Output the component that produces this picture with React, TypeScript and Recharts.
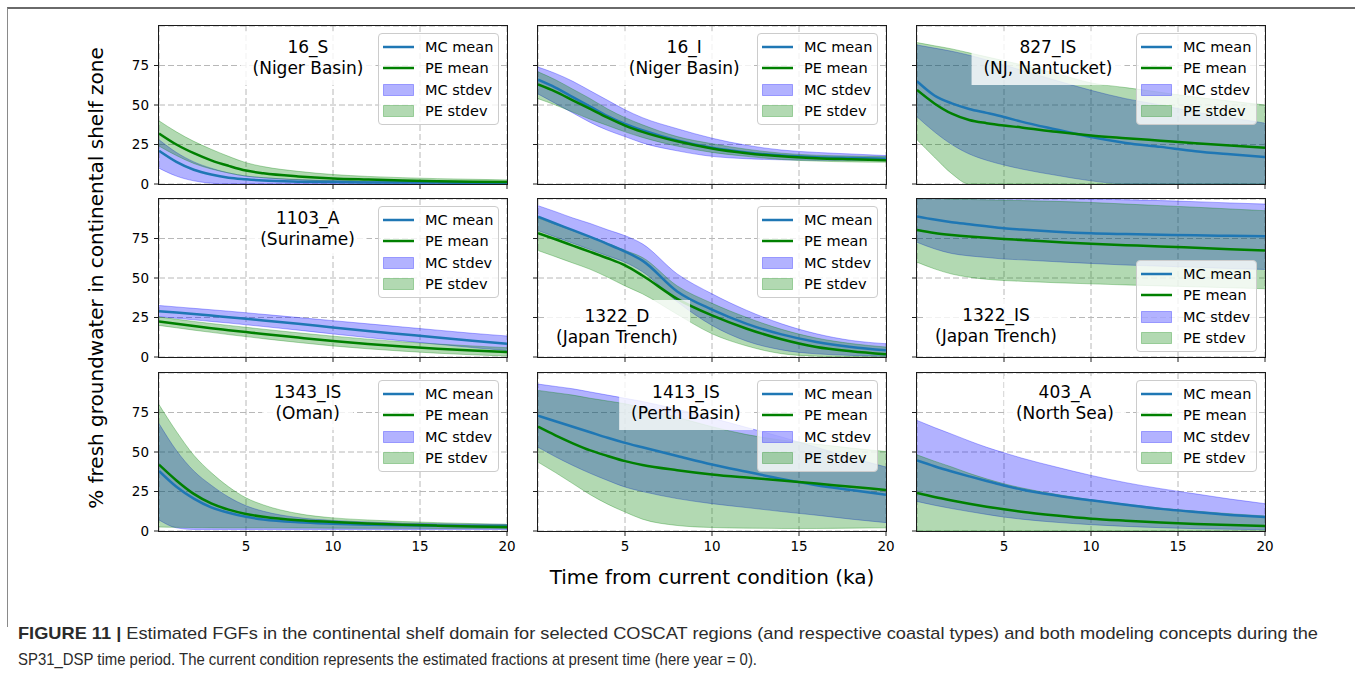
import React from "react";
import {
  Area,
  CartesianGrid,
  ComposedChart,
  Legend,
  Line,
  XAxis,
  YAxis,
} from "recharts";

// time axis (ka) shared by every panel
const TIME_KA = [0, 1, 2, 3, 4, 5, 6, 8, 10, 12, 14, 16, 18, 20];
const X_TICKS = [5, 10, 15, 20];
const Y_TICKS = [0, 25, 50, 75];

// 16_S (Niger Basin)
const mcMean16S = [21, 14, 9, 6, 4, 3, 2.2, 1.5, 1.2, 1, 0.9, 0.9, 0.8, 0.8];
const mcLo16S = [10, 5, 2, 0.5, 0, 0, 0, 0, 0, 0, 0, 0, 0, 0];
const mcHi16S = [28, 20, 14, 10, 7, 5, 4, 2.8, 2.2, 1.8, 1.6, 1.5, 1.4, 1.3];
const peMean16S = [32, 25, 19.5, 15, 11.5, 8.5, 6.8, 4.8, 3.5, 2.8, 2.2, 1.8, 1.5, 1.3];
const peLo16S = [24, 18, 13, 9.5, 7, 5, 4, 2.6, 1.8, 1.3, 1, 0.8, 0.6, 0.5];
const peHi16S = [40, 33, 27, 22, 17.5, 13.5, 11, 8, 6, 4.8, 4, 3.4, 3, 2.6];

// 16_I (Niger Basin)
const mcMean16I = [66, 61, 55, 49, 43, 38, 34, 27.5, 23, 20, 18, 17, 16.5, 16];
const mcLo16I = [57, 51, 45, 39, 34, 30, 26, 21, 17.5, 16, 15.3, 15, 15, 15];
const mcHi16I = [74, 70, 65, 59, 53, 47, 42, 35, 29, 24.5, 21.5, 20, 19, 18];
const peMean16I = [63, 58.5, 53, 47.5, 42, 37, 33, 27, 22.5, 19.5, 17.5, 16.3, 15.6, 15];
const peLo16I = [54, 50, 45.5, 41, 37, 33, 29.5, 24, 20, 17.5, 15.5, 14.5, 14, 13.8];
const peHi16I = [71, 66, 60, 54, 47.5, 42, 37.5, 30, 25.5, 22, 19.5, 18.2, 17.7, 17.4];

// 827_IS (NJ, Nantucket)
const mcMean827 = [65, 56, 51, 47.5, 45, 42.4, 39.5, 34.5, 29.7, 26, 23.5, 20.8, 18.8, 17];
const mcLo827 = [42.5, 33, 25, 19, 15, 12, 9.5, 5.5, 2, 0, 0, 0, 0, 0];
const mcHi827 = [88, 86, 84, 81.5, 78.5, 75.3, 72, 65.5, 59.3, 54, 50, 45.5, 42, 38.5];
const peMean827 = [59.5, 51, 44.5, 40.5, 38.5, 37, 35.8, 33, 30.7, 29, 27.4, 25.8, 24.3, 22.9];
const peLo827 = [28, 17, 6.5, 0, 0, 0, 0, 0, 0, 0, 0, 0, 0, 0];
const peHi827 = [89.5, 87.5, 85.5, 83, 80.5, 78, 75.5, 70, 64, 61, 58, 55, 52.5, 50];

// 1103_A (Suriname)
const mcMean1103 = [29, 28.1, 27.2, 26.2, 25.2, 24.2, 23.1, 21, 18.7, 16.5, 14.4, 12.3, 10.3, 8.4];
const mcLo1103 = [25.5, 24.5, 23.5, 22.5, 21.5, 20.4, 19.3, 17, 14.6, 12.3, 10.2, 8.1, 6, 4];
const mcHi1103 = [32.6, 31.7, 30.8, 29.9, 29, 28, 27, 25, 23, 21, 19, 17, 15, 13.3];
const peMean1103 = [22.5, 21, 19.6, 18.2, 17, 15.8, 14.6, 12.3, 10.1, 8.2, 6.6, 5.2, 4.1, 3.2];
const peLo1103 = [20, 18.5, 17, 15.6, 14.2, 12.9, 11.6, 9.2, 7, 5.2, 3.7, 2.4, 1.4, 0.6];
const peHi1103 = [25.3, 23.9, 22.5, 21.2, 20, 18.8, 17.6, 15.3, 13.2, 11.3, 9.6, 8.2, 7, 5.9];

// 1322_D (Japan Trench)
const mcMean1322D = [88.8, 84.5, 80.3, 76, 71.5, 66.7, 61, 41.5, 30, 21, 14.3, 9.5, 6.3, 4.2];
const mcLo1322D = [80, 76, 72, 68, 64, 60, 54, 35, 20, 10, 4.5, 2, 1, 0.5];
const mcHi1322D = [95.8, 92, 88, 84.5, 80.5, 76.8, 71.6, 52.6, 40, 29.5, 21, 14.7, 10.5, 8.4];
const peMean1322D = [78.3, 74.5, 70.5, 66.5, 62.5, 58, 51.6, 36.8, 26.3, 17.9, 11.2, 6.3, 3.6, 1.7];
const peLo1322D = [67.4, 63.5, 59.5, 55.5, 50.5, 45, 40, 27, 14.7, 7, 2.1, 0.5, 0, 0];
const peHi1322D = [88, 84, 80, 76, 72, 67.5, 63, 45, 34, 25, 17.5, 12, 8.5, 6.3];

// 1322_IS (Japan Trench)
const mcMean1322IS = [89, 87, 85.3, 84, 82.7, 81.5, 80.7, 79.3, 78.3, 77.8, 77.4, 77, 76.7, 76.4];
const mcLo1322IS = [72.6, 68.5, 65.5, 64, 63, 62, 61.5, 60.3, 59.2, 58.2, 57.5, 56.8, 56, 55.4];
const mcHi1322IS = [103, 103, 102.8, 102.5, 102.2, 102, 101.5, 100.8, 100, 99.5, 99, 98.3, 97.5, 96.8];
const peMean1322IS = [80.4, 78.5, 77.2, 76.2, 75.4, 74.7, 74.1, 72.8, 71.6, 70.8, 70, 69.1, 68.2, 67.4];
const peLo1322IS = [60, 55.8, 52.5, 50.5, 49.2, 48.4, 47.9, 47, 46.3, 45.6, 45, 44.4, 43.8, 43.2];
const peHi1322IS = [101, 100.5, 100, 99.7, 99.5, 99.3, 99, 98.5, 97.8, 96.8, 95.8, 94.8, 93.7, 92.6];

// 1343_IS (Oman)
const mcMean1343 = [38, 28, 20.5, 15, 11.5, 9, 7.3, 5.5, 4.6, 4, 3.6, 3.3, 3.1, 3];
const mcLo1343 = [7, 2, 1, 1, 1, 1, 1, 1, 1, 1, 1, 1, 1, 1];
const mcHi1343 = [68, 51, 38, 29, 21.5, 16, 12.5, 8.5, 6.7, 5.7, 5, 4.6, 4.3, 4.2];
const peMean1343 = [42, 32, 23.5, 17.5, 13.5, 10.8, 9, 6.8, 5.7, 4.8, 4, 3.4, 2.9, 2.5];
const peLo1343 = [2.5, 2.3, 2.2, 2.1, 2, 2, 2, 1.9, 1.8, 1.7, 1.7, 1.6, 1.6, 1.5];
const peHi1343 = [80, 63, 48, 37, 28, 21, 16.5, 11, 8.3, 7, 6, 5.3, 4.7, 4.2];

// 1413_IS (Perth Basin)
const mcMean1413 = [73, 69.5, 66, 62.5, 59, 55.8, 53, 47.5, 42.1, 37.5, 33, 29, 26, 23];
const mcLo1413 = [53, 47, 41.5, 36.5, 32, 27.8, 25, 20.5, 17.3, 14.8, 12.3, 10, 7.5, 5.3];
const mcHi1413 = [93, 91.5, 90, 88, 86, 84, 82, 77, 71.5, 65.5, 59.5, 53, 46.5, 40.5];
const peMean1413 = [66, 60.5, 55.5, 51, 47.5, 44.2, 41.8, 38.5, 35.8, 33.8, 32, 30, 28, 26];
const peLo1413 = [43.6, 37, 30, 23, 17, 12, 7.5, 3.5, 2.2, 1.8, 1.6, 1.6, 1.8, 2];
const peHi1413 = [89, 87.5, 86, 84, 82.3, 80.5, 78, 72, 66, 61, 57.5, 55, 52.5, 50.3];

// 403_A (North Sea)
const mcMean403 = [44.6, 41, 37.7, 34.6, 31.6, 28.8, 26.3, 22.5, 19.4, 16.6, 14, 12, 10.2, 8.8];
const mcLo403 = [18.7, 16.3, 14.2, 12.3, 10.5, 8.8, 7.5, 5.5, 4, 2.9, 2.1, 1.5, 1.1, 0.8];
const mcHi403 = [70, 65.5, 61.3, 57, 53, 49.5, 46.2, 40.5, 35.2, 30.6, 26.8, 23.5, 20.2, 17.3];
const peMean403 = [24, 21.5, 19.3, 17.3, 15.4, 13.7, 12.2, 9.8, 7.8, 6.5, 5.4, 4.5, 3.8, 3.2];
const peLo403 = [0, 0, 0, 0, 0, 0, 0, 0, 0, 0, 0, 0, 0, 0];
const peHi403 = [48.2, 44.2, 40.5, 36.5, 33, 29.9, 27.3, 23.2, 19.8, 17, 14.5, 12.6, 10.9, 9.5];

const MC_LINE = "#1f77b4";
const PE_LINE = "#008000";
const MC_FILL = "#0000ff";
const PE_FILL = "#008000";
const FONT = "'DejaVu Sans', 'Noto Sans', sans-serif";

const PLOT_W = 348;
const PLOT_H = 158;
const COL_X = [159, 538, 917];
const ROW_Y = [26, 199, 373];
const Y_AXIS_W = 40;
const X_AXIS_H = 24;
const M_TOP = 5;
const M_RIGHT = 12;

const PANELS = [
  { id: "16_S", region: "(Niger Basin)", mcMean: mcMean16S, mcLo: mcLo16S, mcHi: mcHi16S, peMean: peMean16S, peLo: peLo16S, peHi: peHi16S, tx: 0.428, ty: 21, legendBottom: false },
  { id: "16_I", region: "(Niger Basin)", mcMean: mcMean16I, mcLo: mcLo16I, mcHi: mcHi16I, peMean: peMean16I, peLo: peLo16I, peHi: peHi16I, tx: 0.42, ty: 21, legendBottom: false },
  { id: "827_IS", region: "(NJ, Nantucket)", mcMean: mcMean827, mcLo: mcLo827, mcHi: mcHi827, peMean: peMean827, peLo: peLo827, peHi: peHi827, tx: 0.376, ty: 21, legendBottom: false },
  { id: "1103_A", region: "(Suriname)", mcMean: mcMean1103, mcLo: mcLo1103, mcHi: mcHi1103, peMean: peMean1103, peLo: peLo1103, peHi: peHi1103, tx: 0.427, ty: 19, legendBottom: false },
  { id: "1322_D", region: "(Japan Trench)", mcMean: mcMean1322D, mcLo: mcLo1322D, mcHi: mcHi1322D, peMean: peMean1322D, peLo: peLo1322D, peHi: peHi1322D, tx: 0.227, ty: 117, legendBottom: false },
  { id: "1322_IS", region: "(Japan Trench)", mcMean: mcMean1322IS, mcLo: mcLo1322IS, mcHi: mcHi1322IS, peMean: peMean1322IS, peLo: peLo1322IS, peHi: peHi1322IS, tx: 0.227, ty: 116, legendBottom: true },
  { id: "1343_IS", region: "(Oman)", mcMean: mcMean1343, mcLo: mcLo1343, mcHi: mcHi1343, peMean: peMean1343, peLo: peLo1343, peHi: peHi1343, tx: 0.427, ty: 19, legendBottom: false },
  { id: "1413_IS", region: "(Perth Basin)", mcMean: mcMean1413, mcLo: mcLo1413, mcHi: mcHi1413, peMean: peMean1413, peLo: peLo1413, peHi: peHi1413, tx: 0.425, ty: 19, legendBottom: false },
  { id: "403_A", region: "(North Sea)", mcMean: mcMean403, mcLo: mcLo403, mcHi: mcHi403, peMean: peMean403, peLo: peLo403, peHi: peHi403, tx: 0.425, ty: 19, legendBottom: false },
];

const LEGEND_ITEMS = [
  { label: "MC mean", kind: "line", color: MC_LINE },
  { label: "PE mean", kind: "line", color: PE_LINE },
  { label: "MC stdev", kind: "patch", color: MC_FILL },
  { label: "PE stdev", kind: "patch", color: PE_FILL },
];

function LegendBox() {
  return (
    <div
      style={{
        width: 121,
        boxSizing: "border-box",
        background: "rgba(255,255,255,0.8)",
        border: "1px solid #cccccc",
        borderRadius: 4,
        padding: "2px 4px 2px 4px",
        fontFamily: FONT,
        fontSize: 14.5,
        color: "#000",
      }}
    >
      {LEGEND_ITEMS.map((it) => (
        <div key={it.label} style={{ display: "flex", alignItems: "center", height: 21.5 }}>
          <svg width={31} height={12} style={{ marginRight: 11, flex: "none" }}>
            {it.kind === "line" ? (
              <line x1={0} x2={31} y1={6} y2={6} stroke={it.color} strokeWidth={2.5} />
            ) : (
              <rect x={0.5} y={0.5} width={30} height={11} fill={it.color} fillOpacity={0.3} stroke={it.color} strokeOpacity={0.3} />
            )}
          </svg>
          <span style={{ whiteSpace: "nowrap" }}>{it.label}</span>
        </div>
      ))}
    </div>
  );
}

const hiddenTick = () => <g />;

function Panel({ p, row, col }: { p: any; row: number; col: number }) {
  const rows = TIME_KA.map((t, i) => ({
    t,
    mcMean: p.mcMean[i],
    peMean: p.peMean[i],
    mcBand: [p.mcLo[i], p.mcHi[i]],
    peBand: [p.peLo[i], p.peHi[i]],
  }));
  const plotLeft = COL_X[col];
  const plotTop = ROW_Y[row];
  const legendTop = p.legendBottom ? M_TOP + PLOT_H - 7 - 90 : M_TOP + 7;
  const tickStyle = { fontSize: 13.5, fill: "#000", fontFamily: FONT };

  return (
    <>
      <div style={{ position: "absolute", left: plotLeft - Y_AXIS_W, top: plotTop - M_TOP }}>
        <ComposedChart
          width={Y_AXIS_W + PLOT_W + M_RIGHT}
          height={M_TOP + PLOT_H + X_AXIS_H}
          data={rows}
          margin={{ top: M_TOP, right: M_RIGHT, left: 0, bottom: 0 }}
        >
          <CartesianGrid stroke="#b8b8b8" strokeDasharray="6 3" />
          <XAxis
            type="number"
            dataKey="t"
            domain={[0, 20]}
            ticks={X_TICKS}
            allowDataOverflow
            axisLine={false}
            tickSize={5}
            tickMargin={5}
            tickLine={{ stroke: "#222" }}
            height={X_AXIS_H}
            tick={row === 2 ? tickStyle : hiddenTick}
          />
          <YAxis
            type="number"
            domain={[0, 100]}
            ticks={Y_TICKS}
            allowDataOverflow
            axisLine={false}
            tickSize={5}
            tickMargin={5}
            tickLine={{ stroke: "#222" }}
            width={Y_AXIS_W}
            tick={col === 0 ? tickStyle : hiddenTick}
          />
          <Area
            type="monotone"
            dataKey="mcBand"
            fill={MC_FILL}
            fillOpacity={0.3}
            stroke={MC_FILL}
            strokeOpacity={0.3}
            strokeWidth={1}
            isAnimationActive={false}
            legendType="rect"
            name="MC stdev"
          />
          <Area
            type="monotone"
            dataKey="peBand"
            fill={PE_FILL}
            fillOpacity={0.3}
            stroke={PE_FILL}
            strokeOpacity={0.3}
            strokeWidth={1}
            isAnimationActive={false}
            legendType="rect"
            name="PE stdev"
          />
          <Line type="monotone" dataKey="mcMean" stroke={MC_LINE} strokeWidth={2.5} dot={false} isAnimationActive={false} name="MC mean" />
          <Line type="monotone" dataKey="peMean" stroke={PE_LINE} strokeWidth={2.5} dot={false} isAnimationActive={false} name="PE mean" />
          <Legend
            layout="vertical"
            align="center"
            verticalAlign="middle"
            content={() => <LegendBox />}
            wrapperStyle={{ left: Y_AXIS_W + PLOT_W - 8 - 121, top: legendTop, width: 121, height: 90 }}
          />
        </ComposedChart>
      </div>
      {/* axes frame */}
      <div
        style={{
          position: "absolute",
          left: plotLeft - 1,
          top: plotTop - 1,
          width: PLOT_W + 2,
          height: PLOT_H + 2,
          boxSizing: "border-box",
          border: "1px solid #1a1a1a",
          pointerEvents: "none",
        }}
      />
      {/* panel label */}
      <div
        style={{
          position: "absolute",
          left: plotLeft + p.tx * PLOT_W,
          top: plotTop + p.ty - 10.5 - 6,
          transform: "translateX(-50%)",
          padding: "6px 12px",
          background: "rgba(255,255,255,0.8)",
          fontFamily: FONT,
          fontSize: 17,
          lineHeight: "21px",
          textAlign: "center",
          whiteSpace: "nowrap",
          color: "#000",
          pointerEvents: "none",
        }}
      >
        <div>{p.id}</div>
        <div>{p.region}</div>
      </div>
    </>
  );
}

export default function App() {
  return (
    <div
      style={{
        position: "fixed",
        left: 0,
        top: 0,
        width: 1355,
        height: 674,
        background: "#fff",
        overflow: "hidden",
      }}
    >
      {/* figure frame */}
      <div
        style={{
          position: "absolute",
          left: 7,
          top: 7,
          width: 1360,
          height: 618,
          borderTop: "2px solid #6a6a6a",
          borderLeft: "1px solid #8a8a8a",
        }}
      />
      {PANELS.map((p, i) => (
        <Panel key={p.id} p={p} row={Math.floor(i / 3)} col={i % 3} />
      ))}
      <div
        style={{
          position: "absolute",
          left: 96,
          top: 278,
          transform: "translate(-50%, -50%) rotate(-90deg)",
          fontFamily: FONT,
          fontSize: 20,
          whiteSpace: "nowrap",
          color: "#000",
        }}
      >
        % fresh groundwater in continental shelf zone
      </div>
      <div
        style={{
          position: "absolute",
          left: 712,
          top: 577,
          transform: "translate(-50%, -50%)",
          fontFamily: FONT,
          fontSize: 20,
          whiteSpace: "nowrap",
          color: "#000",
        }}
      >
        Time from current condition (ka)
      </div>
      <svg
        width={1355}
        height={60}
        style={{ position: "absolute", left: 0, top: 612 }}
        fontFamily="'Liberation Sans Narrow', 'Liberation Sans', Arial, sans-serif"
        fontSize={17}
        fill="#2b2b2b"
      >
        <text x={18} y={27} textLength={1300} lengthAdjust="spacingAndGlyphs">
          <tspan fontWeight="bold">FIGURE 11 | </tspan>
          Estimated FGFs in the continental shelf domain for selected COSCAT regions (and respective coastal types) and both modeling concepts during the
        </text>
        <text x={18} y={53} textLength={739} lengthAdjust="spacingAndGlyphs">
          SP31_DSP time period. The current condition represents the estimated fractions at present time (here year = 0).
        </text>
      </svg>
    </div>
  );
}
